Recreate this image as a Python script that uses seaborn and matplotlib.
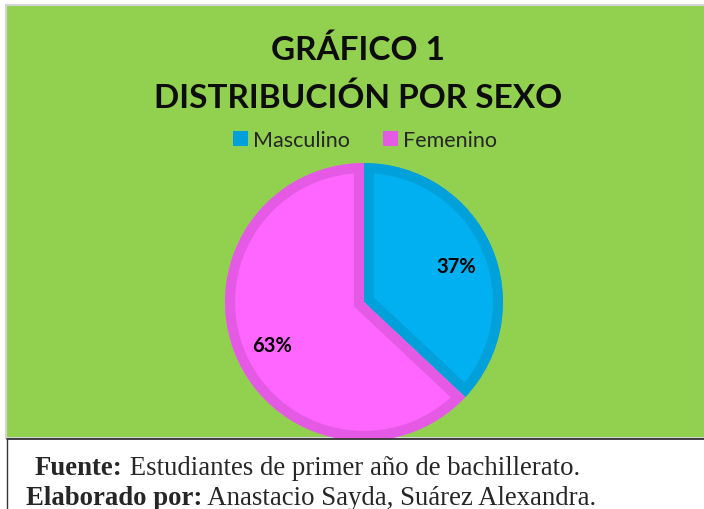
import matplotlib.pyplot as plt
import seaborn as sns
from matplotlib.patches import Rectangle
from matplotlib.lines import Line2D

# Data
labels = ['Masculino', 'Femenino']
values = [37, 63]
fill_colors = ['#00b0f0', '#ff66ff']
edge_colors = ['#00a0da', '#e45ae4']
title_lines = ['GRÁFICO 1', 'DISTRIBUCIÓN POR SEXO']
source_label = 'Fuente:'
source_text = ' Estudiantes de primer año de bachillerato.'
author_label = 'Elaborado por:'
author_text = ' Anastacio Sayda, Suárez Alexandra.'

sns.set_style('white')
plt.rcParams['font.family'] = ['Lato', 'DejaVu Sans']

W, H = 704, 510
fig = plt.figure(figsize=(W / 100, H / 100), dpi=100)
fig.patch.set_facecolor('white')


def fx(px):
    return px / W


def fy(py):
    return 1 - py / H


# Green chart panel with light grey frame
fig.add_artist(Rectangle((fx(5.5), fy(439)), fx(700), 433.5 / H,
                         facecolor='#92d050', edgecolor='#d4d4d4', linewidth=1.5,
                         transform=fig.transFigure, zorder=-1))

# Pie
ax = fig.add_axes([fx(225), fy(442), fx(278), 278 / H])
ax.set_facecolor('none')
wedges, texts, autotexts = ax.pie(values, colors=fill_colors, startangle=90,
                                  counterclock=False, autopct='%1.0f%%',
                                  pctdistance=0.72,
                                  textprops={'fontsize': 14.5, 'fontweight': 'bold',
                                             'color': 'black'})
# border drawn inside each slice only
for w, ec in zip(wedges, edge_colors):
    w.set_edgecolor(ec)
    w.set_linewidth(14.5)
    w.set_clip_on(True)
    w.set_clip_path(w)
autotexts[0].set_position((autotexts[0].get_position()[0], autotexts[0].get_position()[1] - 0.03))
autotexts[1].set_position((autotexts[1].get_position()[0], autotexts[1].get_position()[1] - 0.02))
ax.set_xlim(-1, 1)
ax.set_ylim(-1, 1)
ax.set_aspect('equal')
ax.axis('off')

# Title
fig.text(fx(358), fy(50), title_lines[0], ha='center', va='center',
         fontsize=24, fontweight='bold', color='#0d0d0d')
fig.text(fx(358), fy(98), title_lines[1], ha='center', va='center',
         fontsize=24, fontweight='bold', color='#0d0d0d')

# Legend
handles = [Rectangle((0, 0), 1, 1, facecolor=c, edgecolor='none') for c in edge_colors]
fig.legend(handles, labels, loc='center', bbox_to_anchor=(fx(365), fy(141)),
           ncol=2, frameon=False, fontsize=15.5, handlelength=0.7, handleheight=0.7,
           handletextpad=0.25, columnspacing=1.5)

# Footnote box
fig.add_artist(Rectangle((fx(7), 0), fx(700), fy(439.5), facecolor='white',
                         edgecolor='none', transform=fig.transFigure, zorder=2))
fig.add_artist(Line2D([fx(7), 1], [fy(439.5), fy(439.5)], color='#333333', linewidth=1.3,
                      transform=fig.transFigure, zorder=3))
fig.add_artist(Line2D([fx(7.5), fx(7.5)], [fy(439.5), 0], color='#333333', linewidth=1,
                      transform=fig.transFigure, zorder=3))

serif = ['Liberation Serif', 'DejaVu Serif']
renderer = fig.canvas.get_renderer()
for x0, y0, bold_part, plain_part in [(35, 475, source_label, source_text),
                                      (26, 505, author_label, author_text)]:
    tb = fig.text(fx(x0), fy(y0), bold_part, ha='left', va='baseline', fontsize=19.3,
                  fontweight='bold', family=serif, zorder=4)
    bb = tb.get_window_extent(renderer)
    fig.text(bb.x1 / W, fy(y0), plain_part, ha='left', va='baseline', fontsize=19.3,
             family=serif, zorder=4)

fig.savefig('out.png', dpi=100)
